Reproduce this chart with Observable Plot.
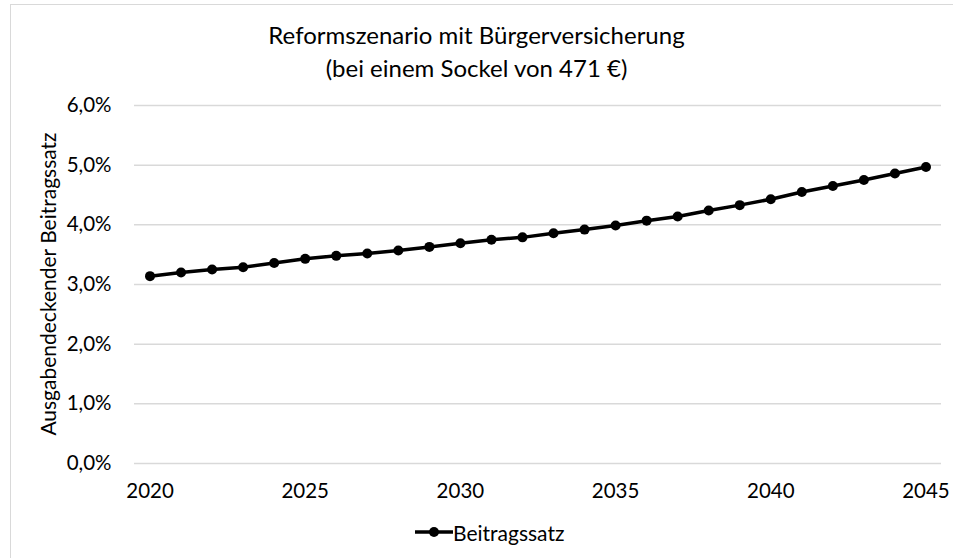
<!DOCTYPE html>
<html>
<head>
<meta charset="utf-8">
<script src="https://cdn.jsdelivr.net/npm/d3@7"></script>
<script src="https://cdn.jsdelivr.net/npm/@observablehq/plot@0.6"></script>
<style>
  html, body { margin: 0; padding: 0; background: #fff; }
  #wrap { position: relative; width: 953px; height: 558px; overflow: hidden; font-family: Lato, "Open Sans", sans-serif; color: #000; }
  #frame { position: absolute; left: 10px; top: 4px; width: 1000px; height: 600px; border-left: 1.5px solid #d9d9d9; border-top: 1.5px solid #d9d9d9; }
  #title { position: absolute; left: 0; width: 953px; top: 18px; text-align: center; font-size: 24px; line-height: 33px; }
  #ytitle { position: absolute; left: 47px; top: 284px; transform: translate(-50%, -50%) rotate(-90deg); white-space: nowrap; font-size: 21px; }
  #legend { position: absolute; left: 415px; top: 518px; height: 28px; font-size: 21px; display: flex; align-items: center; }
  #chart { position: absolute; left: 0; top: 0; }
</style>
</head>
<body>
<div id="wrap">
  <div id="frame"></div>
  <div id="chart"></div>
  <div id="title">Reformszenario mit Bürgerversicherung<br>(bei einem Sockel von 471 €)</div>
  <div id="ytitle">Ausgabendeckender Beitragssatz</div>
  <div id="legend"><svg width="38" height="12"><line x1="0" y1="6" x2="38" y2="6" stroke="#000" stroke-width="3.5"/><circle cx="19" cy="6" r="5" fill="#000"/></svg><span>Beitragssatz</span></div>
</div>
<script>
const years = [2020,2021,2022,2023,2024,2025,2026,2027,2028,2029,2030,2031,2032,2033,2034,2035,2036,2037,2038,2039,2040,2041,2042,2043,2044,2045];
const beitragssatz = [3.14,3.20,3.25,3.29,3.36,3.43,3.48,3.52,3.57,3.63,3.69,3.75,3.79,3.86,3.92,3.99,4.07,4.14,4.24,4.33,4.43,4.55,4.65,4.75,4.86,4.97];
const yTicks = [0,1,2,3,4,5,6];
const xTicks = [2020,2025,2030,2035,2040,2045];
const seriesName = "Beitragssatz";

const data = years.map((y, i) => ({year: y, value: beitragssatz[i]}));
const fmt = d => d.toFixed(1).replace(".", ",") + "%";

const plot = Plot.plot({
  width: 953,
  height: 558,
  marginTop: 105,
  marginBottom: 95,
  marginLeft: 134,
  marginRight: 12,
  style: { fontFamily: "Lato, 'Open Sans', sans-serif", fontSize: "20.5px", color: "#000", background: "transparent", overflow: "visible" },
  x: { domain: [2019.5, 2045.5], label: null },
  y: { domain: [0, 6], label: null },
  marks: [
    Plot.ruleY(yTicks, { stroke: "#d9d9d9", strokeWidth: 1.5 }),
    Plot.axisY(yTicks, { tickSize: 0, tickPadding: 23, tickFormat: fmt, label: null }),
    Plot.axisX(xTicks, { tickSize: 0, tickPadding: 20, tickFormat: d => String(d), label: null }),
    Plot.line(data, { x: "year", y: "value", stroke: "#000", strokeWidth: 3.5 }),
    Plot.dot(data, { x: "year", y: "value", fill: "#000", r: 5, title: d => seriesName })
  ]
});
document.getElementById("chart").appendChild(plot);
</script>
</body>
</html>
